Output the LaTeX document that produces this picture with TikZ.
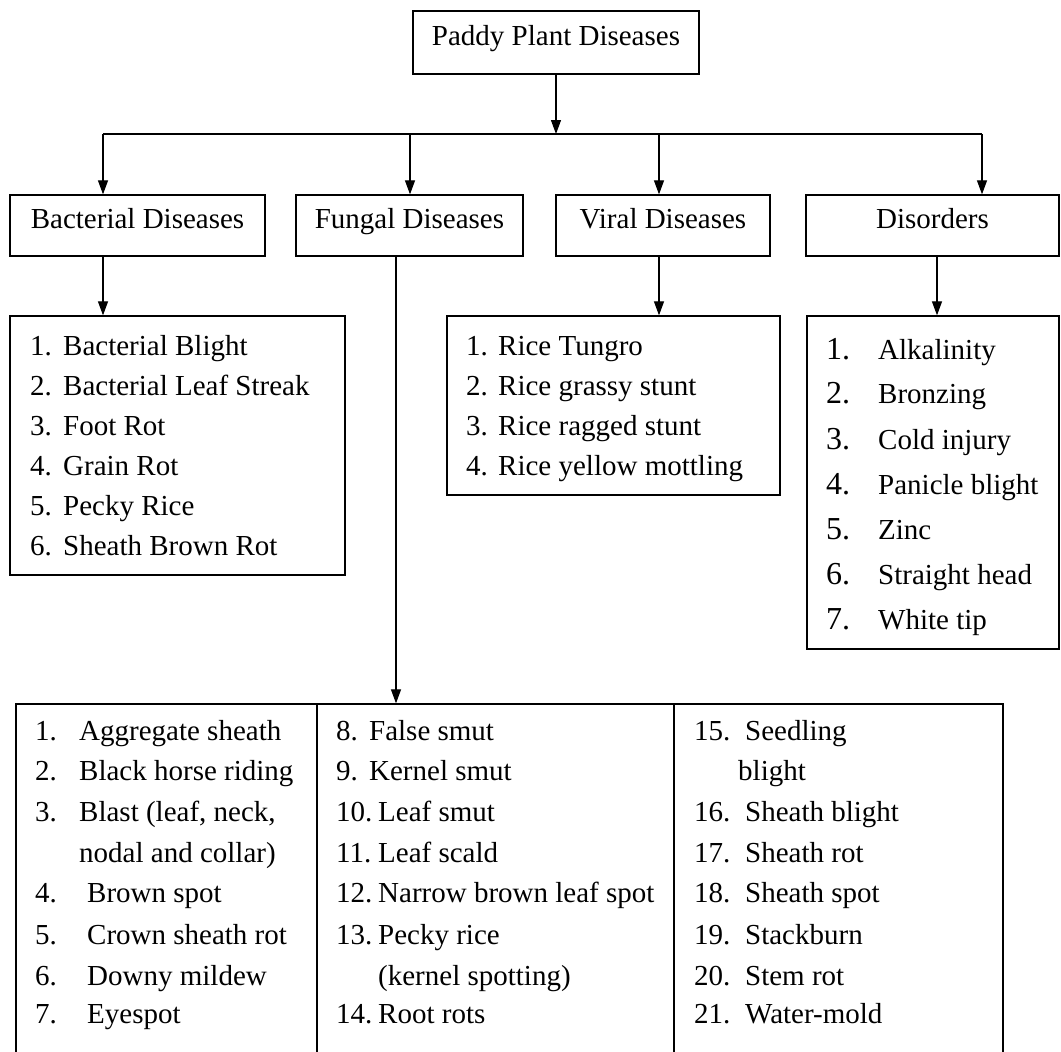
\documentclass[tikz,border=0pt]{standalone}
\usepackage{fontspec}
\setmainfont{Liberation Serif}
\usetikzlibrary{arrows.meta}
\begin{document}
\begin{tikzpicture}[x=1pt,y=1pt,
  box/.style={draw, line width=1.3pt, inner sep=0pt, font=\fontsize{29}{33}\selectfont, text height=20pt, text depth=14pt, align=center},
  lbox/.style={draw, line width=1.3pt, inner sep=0pt},
  lt/.style={anchor=base west, inner sep=0pt, font=\fontsize{29}{33}\selectfont},
  arr/.style={line width=1.2pt, -{Triangle[length=14pt,width=10pt]}},
  ln/.style={line width=1.2pt}]
\clip (0,0) rectangle (1061,-1052);
\fill[white] (0,0) rectangle (1061,-1052);
% header boxes
\node[box, minimum width=286pt, minimum height=63pt] (top) at (556,-42.5) {Paddy Plant Diseases};
\node[box, minimum width=255pt, minimum height=61pt] (bact) at (137.5,-225.5) {Bacterial Diseases};
\node[box, minimum width=227pt, minimum height=61pt] (fung) at (409.5,-225.5) {Fungal Diseases};
\node[box, minimum width=214pt, minimum height=61pt] (vir) at (663,-225.5) {Viral Diseases};
\node[box, minimum width=253pt, minimum height=61pt] (dis) at (932.5,-225.5) {Disorders};
% list boxes
\node[lbox, minimum width=335pt, minimum height=259pt] (bactlist) at (177.5,-445.5) {};
\node[lbox, minimum width=333pt, minimum height=179pt] (virlist) at (613.5,-405.5) {};
\node[lbox, minimum width=252pt, minimum height=333pt] (dislist) at (933,-482.5) {};
\node[lbox, minimum width=987pt, minimum height=356pt] (fbox) at (509.5,-882) {};
\draw[ln] (317,-704) -- (317,-1060);
\draw[ln] (674,-704) -- (674,-1060);
% connectors
\coordinate (hub) at (556,-134);
\coordinate (j1) at (103,-134);
\coordinate (j2) at (410,-134);
\coordinate (j3) at (659,-134);
\coordinate (j4) at (982,-134);
\coordinate (fx) at (396,0);
\coordinate (dx) at (937,0);
\draw[arr] (top.south) -- (hub);
\draw[ln] (j1) -- (j4);
\draw[arr] (j1) -- (j1 |- bact.north);
\draw[arr] (j2) -- (j2 |- fung.north);
\draw[arr] (j3) -- (j3 |- vir.north);
\draw[arr] (j4) -- (j4 |- dis.north);
\draw[arr] (bact.south -| j1) -- (bactlist.north -| j1);
\draw[arr] (fung.south -| fx) -- (fbox.north -| fx);
\draw[arr] (vir.south -| j3) -- (virlist.north -| j3);
\draw[arr] (dis.south -| dx) -- (dislist.north -| dx);
% bacterial list
\node[lt] (b1) at (30,-355) {\makebox[33pt][l]{1.}Bacterial Blight};
\node[lt] (b2) at (30,-395) {\makebox[33pt][l]{2.}Bacterial Leaf Streak};
\node[lt] (b3) at (30,-435) {\makebox[33pt][l]{3.}Foot Rot};
\node[lt] (b4) at (30,-475) {\makebox[33pt][l]{4.}Grain Rot};
\node[lt] (b5) at (30,-515) {\makebox[33pt][l]{5.}Pecky Rice};
\node[lt] (b6) at (30,-555) {\makebox[33pt][l]{6.}Sheath Brown Rot};
% viral list
\node[lt] (v1) at (466,-355) {\makebox[32pt][l]{1.}Rice Tungro};
\node[lt] (v2) at (466,-395) {\makebox[32pt][l]{2.}Rice grassy stunt};
\node[lt] (v3) at (466,-435) {\makebox[32pt][l]{3.}Rice ragged stunt};
\node[lt] (v4) at (466,-475) {\makebox[32pt][l]{4.}Rice yellow mottling};
% disorders list
\node[lt] (d1) at (826,-359) {\makebox[52pt][l]{\fontsize{32}{36}\selectfont 1.}Alkalinity};
\node[lt] (d2) at (826,-403) {\makebox[52pt][l]{\fontsize{32}{36}\selectfont 2.}Bronzing};
\node[lt] (d3) at (826,-449) {\makebox[52pt][l]{\fontsize{32}{36}\selectfont 3.}Cold injury};
\node[lt] (d4) at (826,-494) {\makebox[52pt][l]{\fontsize{32}{36}\selectfont 4.}Panicle blight};
\node[lt] (d5) at (826,-539) {\makebox[52pt][l]{\fontsize{32}{36}\selectfont 5.}Zinc};
\node[lt] (d6) at (826,-584) {\makebox[52pt][l]{\fontsize{32}{36}\selectfont 6.}Straight head};
\node[lt] (d7) at (826,-629) {\makebox[52pt][l]{\fontsize{32}{36}\selectfont 7.}White tip};
% fungal column 1
\node[lt] (f1) at (35,-740) {\makebox[44pt][l]{1.}Aggregate sheath};
\node[lt] (f2) at (35,-780) {\makebox[44pt][l]{2.}Black horse riding};
\node[lt] (f3) at (35,-821) {\makebox[44pt][l]{3.}Blast (leaf, neck,};
\node[lt] (f3b) at (79,-862) {nodal and collar)};
\node[lt] (f4) at (35,-902) {\makebox[52pt][l]{4.}Brown spot};
\node[lt] (f5) at (35,-944) {\makebox[52pt][l]{5.}Crown sheath rot};
\node[lt] (f6) at (35,-985) {\makebox[52pt][l]{6.}Downy mildew};
\node[lt] (f7) at (35,-1023) {\makebox[52pt][l]{7.}Eyespot};
% fungal column 2
\node[lt] (f8) at (336,-740) {\makebox[33pt][l]{8.}False smut};
\node[lt] (f9) at (336,-780) {\makebox[33pt][l]{9.}Kernel smut};
\node[lt] (f10) at (336,-821) {\makebox[42pt][l]{10.}Leaf smut};
\node[lt] (f11) at (336,-862) {\makebox[42pt][l]{11.}Leaf scald};
\node[lt] (f12) at (336,-902) {\makebox[42pt][l]{12.}Narrow brown leaf spot};
\node[lt] (f13) at (336,-944) {\makebox[42pt][l]{13.}Pecky rice};
\node[lt] (f13b) at (378,-985) {(kernel spotting)};
\node[lt] (f14) at (336,-1023) {\makebox[42pt][l]{14.}Root rots};
% fungal column 3
\node[lt] (f15) at (694,-740) {\makebox[51pt][l]{15.}Seedling};
\node[lt] (f15b) at (738,-780) {blight};
\node[lt] (f16) at (694,-821) {\makebox[51pt][l]{16.}Sheath blight};
\node[lt] (f17) at (694,-862) {\makebox[51pt][l]{17.}Sheath rot};
\node[lt] (f18) at (694,-902) {\makebox[51pt][l]{18.}Sheath spot};
\node[lt] (f19) at (694,-944) {\makebox[51pt][l]{19.}Stackburn};
\node[lt] (f20) at (694,-985) {\makebox[51pt][l]{20.}Stem rot};
\node[lt] (f21) at (694,-1023) {\makebox[51pt][l]{21.}Water-mold};
\end{tikzpicture}
\end{document}
